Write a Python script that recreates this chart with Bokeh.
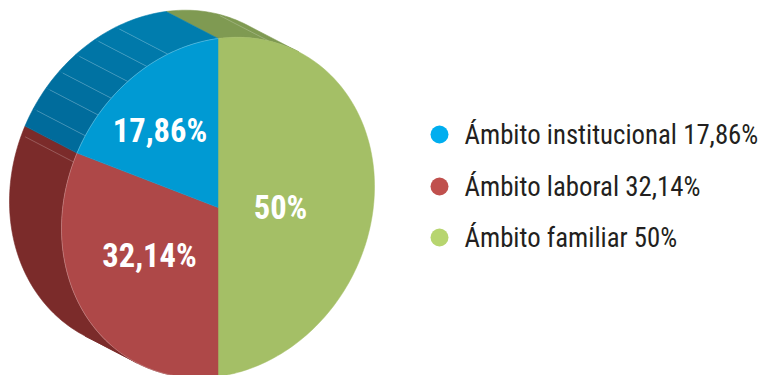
import math
from bokeh.embed import file_html
from bokeh.models import Range1d
from bokeh.plotting import figure
from bokeh.resources import INLINE
from bokeh.core.properties import value

categories = ["Ámbito institucional", "Ámbito laboral", "Ámbito familiar"]
shares = [17.86, 32.14, 50.0]
share_labels = ["17,86%", "32,14%", "50%"]
legend_labels = ["Ámbito institucional 17,86%", "Ámbito laboral 32,14%", "Ámbito familiar 50%"]
face_colors = ["#009ad3", "#ae4848", "#a4bf66"]
side_colors = ["#0078a8", "#7b2b2a", "#7f9a52"]
legend_colors = ["#00aeef", "#c0504d", "#b7d56f"]
facet_angles = [18.7, 292.6, 302, 310, 317, 324.8, 333, 341.3]
blue_band_colors = ["#006b9b", "#006c9c", "#006f9f", "#0072a2", "#0075a6", "#0079aa", "#007dae"]

CX, CY, RX, RY, SHEAR = 217.5, 207.0, 156.5, 169.0, 21.0
DX, DY = -52.0, -27.0
FONT = value("Roboto Condensed")


def pt(deg, off=0.0):
    t = math.radians(deg)
    return (CX + RX * math.sin(t) + DX * off,
            CY - RY * math.cos(t) - SHEAR * math.sin(t) + DY * off)


def arc(a, b, off=0.0):
    n = max(2, int(abs(b - a) / 1.5) + 1)
    return [pt(a + (b - a) * i / n, off) for i in range(n + 1)]


def draw_band(fig, a, b, color):
    poly = arc(a, b) + arc(b, a, 1.0)
    fig.patch([q[0] for q in poly], [q[1] for q in poly], fill_color=color,
              line_color=color, line_width=0.6)


# angle where the wall's silhouette leaves the rim (rim tangent parallel to the extrusion)
tangent = math.degrees(math.atan((RX * DY + SHEAR * DX) / (DX * RY)))

p = figure(width=761, height=375, x_range=Range1d(0, 761), y_range=Range1d(375, 0),
           toolbar_location=None, output_backend="svg", min_border=0,
           outline_line_color=None)
p.axis.visible = False
p.grid.visible = False

# wedge spans, clockwise from 12 o'clock: familiar, laboral, institucional
fam_end = shares[2] * 3.6
lab_end = fam_end + shares[1] * 3.6
spans = {2: (0.0, fam_end), 1: (fam_end, lab_end), 0: (lab_end, 360.0)}

# extruded sides, split at the tangent angle so each polygon is simple
draw_band(p, 0.0, tangent, side_colors[2])
draw_band(p, fam_end, fam_end + tangent, side_colors[1])
draw_band(p, fam_end + tangent, lab_end, side_colors[1])
edges = [lab_end] + [f for f in facet_angles if f > lab_end] + [360.0]
for k in range(len(edges) - 1):
    draw_band(p, edges[k], edges[k + 1], blue_band_colors[min(k, len(blue_band_colors) - 1)])

# facet hairlines
for f in facet_angles:
    x0, y0 = pt(f)
    x1, y1 = pt(f, 0.93)
    p.line([x0, x1], [y0, y1], line_color="#ffffff", line_alpha=0.28, line_width=0.8)

# front faces
for i in (2, 1, 0):
    a, b = spans[i]
    poly = [(CX, CY)] + arc(a, b)
    p.patch([q[0] for q in poly], [q[1] for q in poly], fill_color=face_colors[i],
            line_color=face_colors[i], line_width=0.5)

# faint highlight along the front rim, where it meets the side wall
for i in (1, 0):
    a, b = spans[i]
    rim = arc(a, b)
    p.line([q[0] for q in rim], [q[1] for q in rim], line_color="#ffffff", line_alpha=0.3, line_width=0.8)

# share labels
label_x = [159.5, 149, 280]
label_y = [130, 255, 207]
p.text(label_x, label_y, text=share_labels, text_font=FONT, text_font_style="bold",
       text_font_size="32.5px", text_color="#ffffff", text_align="center", text_baseline="middle")

# legend
legend_y = [134, 186, 237]
p.scatter([439] * 3, legend_y, size=18, marker="circle", fill_color=legend_colors, line_color=None)
p.text([464] * 3, legend_y, text=legend_labels, text_font=FONT, text_font_size="26.8px",
       text_color="#231f20", text_align="left", text_baseline="middle")

open("out.html", "w").write(file_html(p, INLINE))
